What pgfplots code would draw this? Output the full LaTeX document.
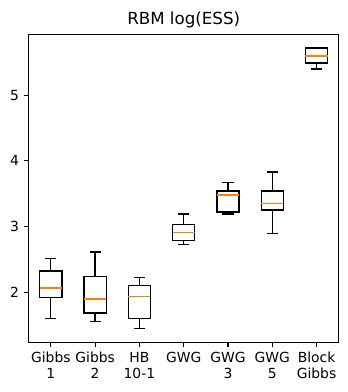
\documentclass[border=0pt]{standalone}
\usepackage{fontspec}
\setmainfont{DejaVu Sans}
\usepackage{pgfplots}
\pgfplotsset{compat=1.18}
\usepgfplotslibrary{statistics}
\definecolor{mplorange}{HTML}{FF7F0E}

\begin{document}
\begin{tikzpicture}
\useasboundingbox (0,0) rectangle (250.56pt,282.24pt);
\begin{axis}[
  at={(20.66pt,35.78pt)}, anchor=south west,
  scale only axis,
  width=223.2pt, height=221.8pt,
  xmin=0.5, xmax=7.5,
  ymin=1.235, ymax=5.93,
  xtick={1,2,3,4,5,6,7},
  xticklabels={Gibbs\\1, Gibbs\\2, HB\\10-1, GWG, GWG\\3, GWG\\5, Block\\Gibbs},
  x tick label style={align=center, font=\fontsize{10}{11.5}\selectfont},
  ytick={2,3,4,5},
  y tick label style={font=\fontsize{10}{12}\selectfont},
  /pgf/number format/assume math mode=true,
  tick align=outside, xtick pos=bottom, ytick pos=left,
  major tick length=3.5pt,
  tick style={black, line width=0.8pt},
  axis line style={line width=0.8pt},
  title={RBM log(ESS)},
  title style={font=\fontsize{12}{14}\selectfont, yshift=-5pt},
  boxplot/draw direction=y,
  boxplot/every median/.style={draw=mplorange, line width=1.2pt},
  boxplot/box extend=0.5,
  boxplot/whisker extend=0.25,
]
% Gibbs 1
\addplot[black, line width=0.9pt, boxplot prepared={draw position=1,
  lower whisker=1.60, lower quartile=1.92, median=2.058,
  upper quartile=2.322, upper whisker=2.514}] coordinates {};
% Gibbs 2
\addplot[black, line width=0.9pt, boxplot prepared={draw position=2,
  lower whisker=1.555, lower quartile=1.68, median=1.89,
  upper quartile=2.24, upper whisker=2.61}] coordinates {};
% HB 10-1
\addplot[black, line width=0.9pt, boxplot prepared={draw position=3,
  lower whisker=1.45, lower quartile=1.60, median=1.935,
  upper quartile=2.10, upper whisker=2.22}] coordinates {};
% GWG
\addplot[black, line width=0.9pt, boxplot prepared={draw position=4,
  lower whisker=2.72, lower quartile=2.79, median=2.91,
  upper quartile=3.03, upper whisker=3.19}] coordinates {};
% GWG 3
\addplot[black, line width=0.9pt, boxplot prepared={draw position=5,
  lower whisker=3.19, lower quartile=3.22, median=3.48,
  upper quartile=3.54, upper whisker=3.67}] coordinates {};
% GWG 5
\addplot[black, line width=0.9pt, boxplot prepared={draw position=6,
  lower whisker=2.89, lower quartile=3.25, median=3.35,
  upper quartile=3.54, upper whisker=3.83}] coordinates {};
% Block Gibbs
\addplot[black, line width=0.9pt, boxplot prepared={draw position=7,
  lower whisker=5.40, lower quartile=5.49, median=5.60,
  upper quartile=5.72, upper whisker=5.72}] coordinates {};
\end{axis}
\end{tikzpicture}
\end{document}
